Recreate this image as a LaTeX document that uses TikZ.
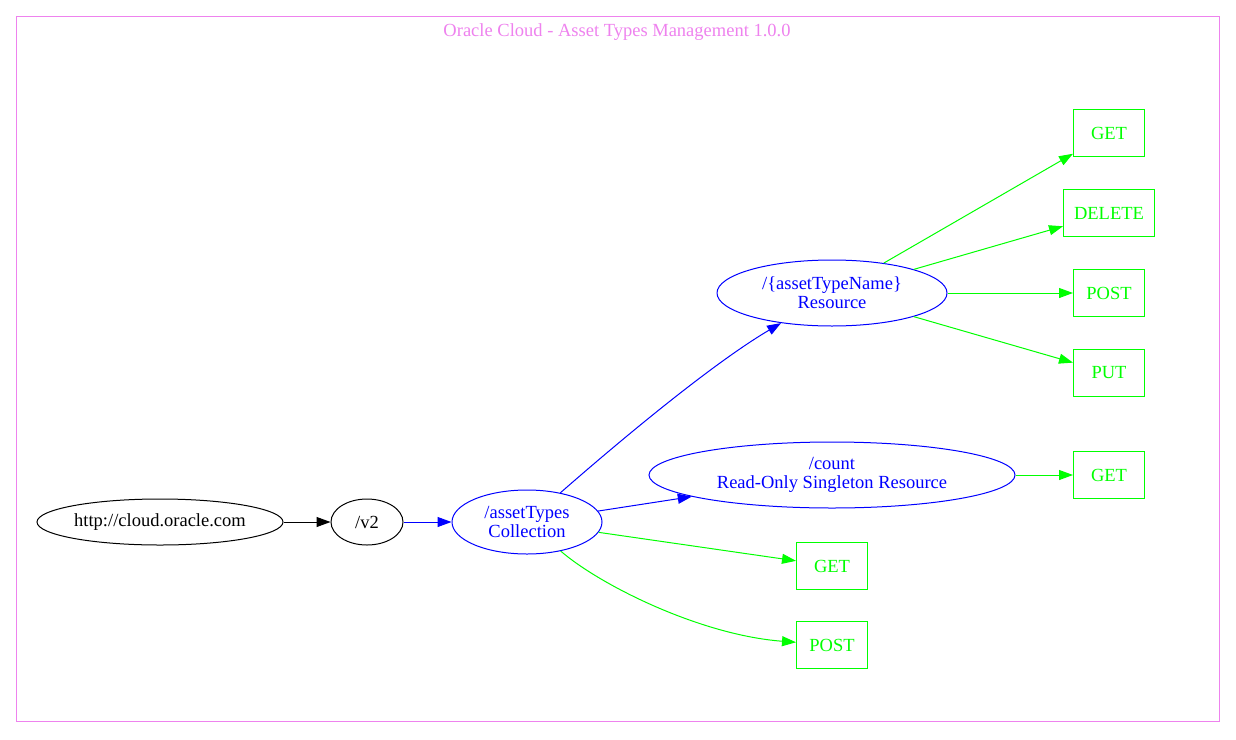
\documentclass[tikz,border=0pt]{standalone}
\usepackage{fontspec}
\setmainfont{Liberation Serif}
\usetikzlibrary{shapes.geometric,arrows.meta}
\definecolor{frameviolet}{HTML}{EE82EE}
\definecolor{pathblue}{HTML}{0000FF}
\definecolor{verbgreen}{HTML}{00FF00}
\begin{document}
\begin{tikzpicture}[>={Triangle[length=14pt,width=10pt]},x=1pt,y=-1pt,line width=1pt,
	font=\fontsize{18.5}{19}\selectfont,
	res/.style={ellipse,draw,inner sep=0pt,align=center},
	blueres/.style={res,draw=pathblue,text=pathblue},
	verb/.style={rectangle,draw=verbgreen,text=verbgreen,inner sep=0pt,minimum height=47pt,minimum width=71pt}]
	\useasboundingbox (0,0) rectangle (1236,739);
	% frame and title
	\draw[frameviolet] (16,16) rectangle (1219,721);
	\node[text=frameviolet] (title) at (617,32) {Oracle Cloud - Asset Types Management 1.0.0};
	% paths
	\node[res,minimum width=246pt,minimum height=46pt] (root) at (160,522) {http://cloud.oracle.com};
	\node[res,minimum width=72pt,minimum height=46pt] (v2) at (367,522) {/v2};
	\node[blueres,minimum width=150pt,minimum height=64pt] (types) at (527,522) {/assetTypes\\Collection};
	\node[blueres,minimum width=230pt,minimum height=66pt] (name) at (832,293) {/\{assetTypeName\}\\Resource};
	\node[blueres,minimum width=366pt,minimum height=66pt] (count) at (832,475) {/count\\Read-Only Singleton Resource};
	% verbs
	\node[verb] (nameget) at (1109,133) {GET};
	\node[verb,minimum width=91pt] (namedelete) at (1109,213) {DELETE};
	\node[verb] (namepost) at (1109,293) {POST};
	\node[verb] (nameput) at (1109,373) {PUT};
	\node[verb] (countget) at (1109,475) {GET};
	\node[verb] (typesget) at (832,566) {GET};
	\node[verb] (typespost) at (832,645) {POST};
	% edges
	\draw[->] (root)--(v2);
	\draw[->,pathblue] (v2)--(types);
	\draw[->,pathblue] (types) .. controls (615,445) and (710,365) .. (name);
	\draw[->,pathblue] (types)--(count);
	\draw[->,verbgreen] (types)--(typesget);
	\draw[->,verbgreen] (types) .. controls (600,585) and (700,635) .. (typespost);
	\draw[->,verbgreen] (name)--(nameget);
	\draw[->,verbgreen] (name)--(namedelete);
	\draw[->,verbgreen] (name)--(namepost);
	\draw[->,verbgreen] (name)--(nameput);
	\draw[->,verbgreen] (count)--(countget);
\end{tikzpicture}
\end{document}
